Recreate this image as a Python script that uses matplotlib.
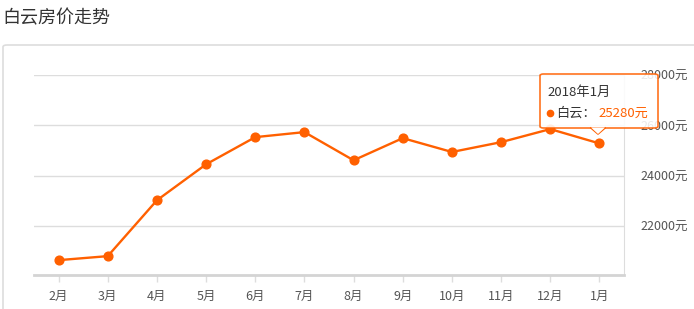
import matplotlib
matplotlib.use('Agg')
import matplotlib.pyplot as plt
from matplotlib.patches import FancyBboxPatch, Polygon
import numpy as np

plt.rcParams['font.family'] = ['Noto Sans CJK SC', 'DejaVu Sans']

# data
months = ['2月', '3月', '4月', '5月', '6月', '7月', '8月', '9月', '10月', '11月', '12月', '1月']
prices = [20640, 20800, 23020, 24450, 25530, 25730, 24610, 25490, 24940, 25330, 25850, 25280]
yticks = [22000, 24000, 26000, 28000]
tip_title = '2018年1月'
tip_name = '白云：'
tip_value = '25280元'

W, H = 694, 309
orange = '#ff6000'

fig = plt.figure(figsize=(W / 100, H / 100), dpi=100)

def px(x, y):
    # pixel position (from top-left) to figure fraction
    return x / W, 1 - y / H

# title and panel frame
fig.text(*px(2, 18), '白云房价走势', fontsize=13, color='#333333', va='center', ha='left')
fig.patches.append(FancyBboxPatch(px(3, 330), 720 / W, (330 - 45) / H,
                                  boxstyle='round,pad=0,rounding_size=0.006',
                                  transform=fig.transFigure, fill=False,
                                  edgecolor='#dddddd', linewidth=1.2))

l, b = px(34, 275)
r, t = px(624, 75)
ax = fig.add_axes([l, b, r - l, t - b])

x = np.arange(len(months))
ax.plot(x, prices, '-o', color=orange, lw=1.7, ms=6.3, zorder=3, clip_on=False)

ax.set_xlim(-0.5, len(months) - 0.5)
ax.set_ylim(20050, 28000)
ax.set_xticks(x)
ax.set_xticklabels(months, fontsize=9, color='#555555')
ax.tick_params(axis='x', length=5, width=1, color='#dddddd', pad=6)

ax.yaxis.tick_right()
ax.set_yticks(yticks)
ax.set_yticklabels([f'{v}元' for v in yticks], fontsize=9, color='#555555')
ax.tick_params(axis='y', length=0, pad=12)
ax.grid(axis='y', color='#dddddd', lw=1)
ax.set_axisbelow(True)

for s in ['top', 'left']:
    ax.spines[s].set_visible(False)
ax.spines['right'].set_color('#dddddd')
ax.spines['bottom'].set_color('#d4d4d4')
ax.spines['bottom'].set_linewidth(2)

# tooltip
x0, y0 = px(540, 128)
x1, y1 = px(658, 74)
fig.patches.append(FancyBboxPatch((x0, y0), x1 - x0, y1 - y0,
                                  boxstyle='round,pad=0,rounding_size=0.005',
                                  transform=fig.transFigure, facecolor='white',
                                  alpha=0.88, edgecolor=orange, linewidth=1.2, zorder=5))
fig.patches.append(Polygon([px(591, 127.5), px(605, 127.5), px(598, 134)],
                           closed=True, transform=fig.transFigure,
                           facecolor='white', edgecolor='none', zorder=6))
fig.lines.append(plt.Line2D(*zip(px(591, 128), px(598, 134), px(605, 128)),
                            transform=fig.transFigure, color=orange, lw=1.2, zorder=6))
fig.text(*px(547, 92), tip_title, fontsize=9.5, color='#333333', va='center', ha='left', zorder=7)
fig.lines.append(plt.Line2D(*zip(px(550, 113)), transform=fig.transFigure, marker='o',
                            ms=4.5, color=orange, zorder=7))
fig.text(*px(556, 113), tip_name, fontsize=9.5, color='#333333', va='center', ha='left', zorder=7)
fig.text(*px(598, 113), tip_value, fontsize=9.5, color=orange, va='center', ha='left', zorder=7)

plt.savefig('out.png', dpi=100)
